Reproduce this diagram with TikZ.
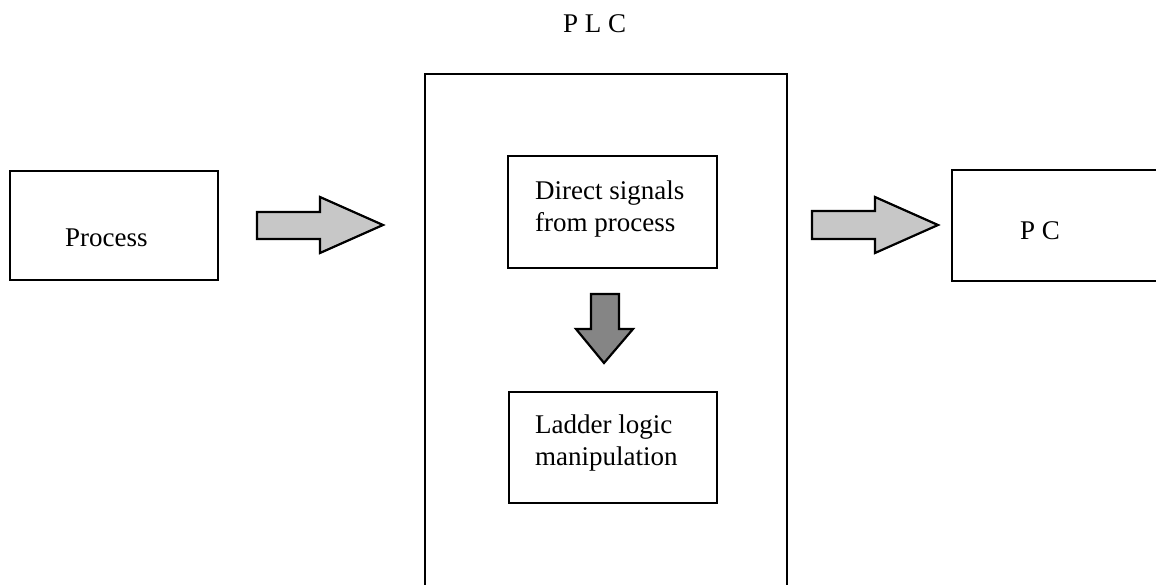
\documentclass[tikz,border=0pt]{standalone}
\usepackage{fontspec}
\setmainfont{Liberation Serif}
\begin{document}
\begin{tikzpicture}[x=1pt,y=-1pt,
  box/.style={draw=black, line width=2.2pt, fill=white, inner sep=0pt},
  txt/.style={inner sep=0pt, font=\fontsize{27}{31.6}\selectfont, align=left, anchor=base west},
  harrow/.style={draw=black, line width=2.2pt, fill=black!22, line join=miter},
  varrow/.style={draw=black, line width=2.2pt, fill=black!48, line join=miter}]
\useasboundingbox (0,0) rectangle (1156,584);
\clip (0,0) rectangle (1156,584);
% boxes
\node[box, minimum width=208pt, minimum height=109pt] (proc) at (114,225.5) {};
\node[box, minimum width=362pt, minimum height=530pt] (plc) at (606,339) {};
\node[box, minimum width=209pt, minimum height=112pt] (dsig) at (612.5,212) {};
\node[box, minimum width=208pt, minimum height=111pt] (ladder) at (613,447.5) {};
\node[box, minimum width=240pt, minimum height=111pt] (pc) at (1072,225.5) {};
% texts
\node[txt] (plct) at (563,32) {P L C};
\node[txt] (proct) at (65,246) {Process};
\node[txt] (dsigt) at (535,231) {Direct signals\\from process};
\node[txt] (laddert) at (535,465) {Ladder logic\\manipulation};
\node[txt] (pct) at (1020,239) {P C};
% block arrows
\draw[harrow] (257,212) -- (320,212) -- (320,197) -- (383,225) -- (320,253) -- (320,239) -- (257,239) -- cycle;
\draw[harrow] (812,211) -- (875,211) -- (875,197) -- (938,225) -- (875,253) -- (875,239) -- (812,239) -- cycle;
\draw[varrow] (591,294) -- (619,294) -- (619,329) -- (633,329) -- (604,363) -- (576,329) -- (591,329) -- cycle;
\end{tikzpicture}
\end{document}
